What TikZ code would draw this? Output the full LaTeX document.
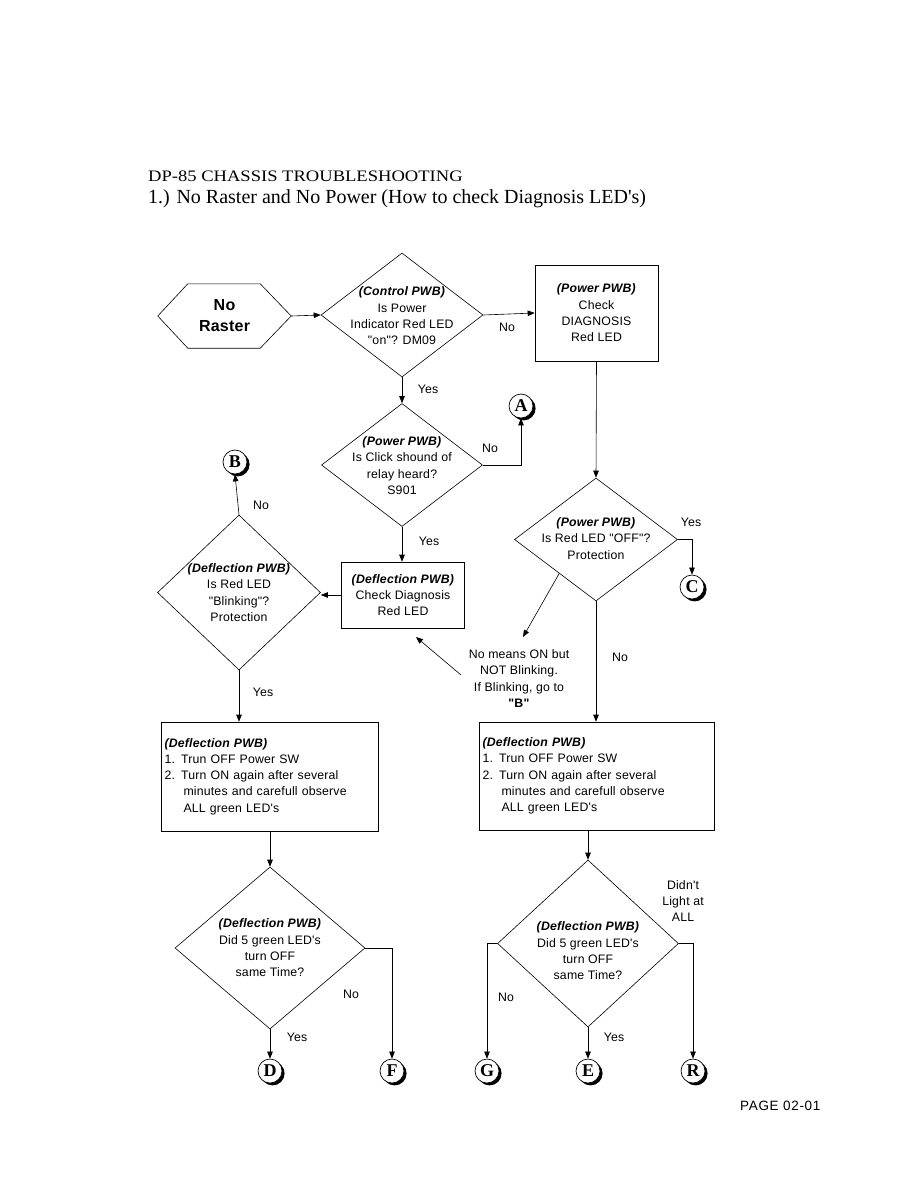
\documentclass[tikz,border=0pt]{standalone}
\usepackage{fontspec}
\newfontfamily\bodyfont{Liberation Sans}[LetterSpace=1.5]
\newfontfamily\serifwide{Liberation Serif}[FakeStretch=1.16]
\newfontfamily\serifn{Liberation Serif}
\newfontfamily\pagefont{Liberation Sans}[LetterSpace=5]
\usetikzlibrary{shapes.geometric,arrows.meta,calc,shadows}
\newcommand\pwb[1]{\textbf{\textit{#1}}}
\begin{document}
\begin{tikzpicture}[x=1pt,y=-1pt,
  every node/.style={font=\bodyfont\fontsize{12.3}{16.3}\selectfont, inner sep=0pt, text=black},
  line/.style={line width=0.6pt},
  arr/.style={line width=0.6pt,-{Triangle[length=7pt,width=5.5pt]}},
  dia/.style 2 args={draw, diamond, line width=0.6pt, minimum width=#1, minimum height=#2},
  box/.style={draw, rectangle, line width=0.6pt, align=center},
  txt/.style={align=center},
  conn/.style={circle, draw, fill=white, line width=0.7pt, minimum size=24pt,
    font=\serifn\bfseries\fontsize{18}{18}\selectfont,
    drop shadow={shadow xshift=2.6pt, shadow yshift=-2.4pt, opacity=1, fill=black}}]
\path[use as bounding box] (0,0) rectangle (918,1188);

% titles
\node[anchor=base west, font=\serifwide\fontsize{16}{16}\selectfont] (t1) at (148,181) {DP-85 CHASSIS TROUBLESHOOTING};
\node[anchor=base west, font=\serifn\fontsize{20}{20}\selectfont] (t2) at (148,203) {1.) No Raster and No Power (How to check Diagnosis LED's)};

% start hexagon
\node[minimum width=133, minimum height=64, align=center, font=\bodyfont\bfseries\fontsize{16}{21}\selectfont] (hex) at (224.5,316) {No\\Raster};
\draw[line] (hex.west) -- ($(hex.north west)+(30,0)$) -- ($(hex.north east)+(-31,0)$) -- (hex.east) -- ($(hex.south east)+(-31,0)$) -- ($(hex.south west)+(30,0)$) -- cycle;

% diamond 1
\node[dia={162}{124}] (d1) at (402,315) {};
\node[txt] (d1t) at (402,316) {\pwb{(Control PWB)}\\Is Power\\Indicator Red LED\\"on"? DM09};

% box 1
\node[box, minimum width=123, minimum height=96] (b1) at (596.5,313) {\pwb{(Power PWB)}\\Check\\DIAGNOSIS\\Red LED};

% diamond 2
\node[dia={161}{123}] (d2) at (402,465) {};
\node[txt] (d2t) at (402,465.5) {\pwb{(Power PWB)}\\Is Click shound of\\relay heard?\\S901};

% box 2
\node[box, minimum width=123, minimum height=66] (b2) at (403,595) {\pwb{(Deflection PWB)}\\Check Diagnosis\\Red LED};

% diamond 3
\node[dia={163}{155}] (d3) at (239,592.5) {};
\node[txt] (d3t) at (239,592.5) {\pwb{(Deflection PWB)}\\Is Red LED\\"Blinking"?\\Protection};

% diamond 5
\node[dia={163}{123}] (d5) at (596,539.5) {};
\node[txt] (d5t) at (596,538.5) {\pwb{(Power PWB)}\\Is Red LED "OFF"?\\Protection};

% note
\node[txt] (note) at (519,678.5) {No means ON but\\NOT Blinking.\\If Blinking, go to\\\textbf{"B"}};
\coordinate (nin) at (523,637);
\coordinate (ntail) at (461,675);
\coordinate (nhead) at (416,637);

% boxes 3 and 4
\node[box, minimum width=217, minimum height=109, align=left, text width=210] (b3) at (269.5,776.5)
  {\pwb{(Deflection PWB)}\\1. Trun OFF Power SW\\2. Turn ON again after several\\\hspace*{19pt}minutes and carefull observe\\\hspace*{19pt}ALL green LED's};
\node[box, minimum width=235, minimum height=108, align=left, text width=228] (b4) at (596.5,776)
  {\pwb{(Deflection PWB)}\\1. Trun OFF Power SW\\2. Turn ON again after several\\\hspace*{19pt}minutes and carefull observe\\\hspace*{19pt}ALL green LED's};

% diamonds 4 and 6
\node[dia={190}{162}] (d4) at (270,948) {};
\node[txt] (d4t) at (270,948) {\pwb{(Deflection PWB)}\\Did 5 green LED's\\turn OFF\\same Time?};
\node[dia={181}{167}] (d6) at (588,943.5) {};
\node[txt] (d6t) at (588,951) {\pwb{(Deflection PWB)}\\Did 5 green LED's\\turn OFF\\same Time?};

% connectors (circles)
\node[conn] (A) at (521,406) {A};
\node[conn] (B) at (235,462) {B};
\node[conn] (C) at (692,587) {C};
\node[conn] (D) at (270,1071) {D};
\node[conn] (F) at (392,1071) {F};
\node[conn] (G) at (487,1071) {G};
\node[conn] (E) at (588,1071) {E};
\node[conn] (R) at (693,1071) {R};

% arrows
\draw[arr] (hex.east) -- (d1.west);
\draw[arr] (d1.east) -- (b1.west);
\draw[arr] (d1.south) -- (d2.north);
\draw[arr] (d2.east) -| (A.south);
\draw[arr] (d2.south) -- (d2.south |- b2.north);
\draw[arr] (b2.west) -- (b2.west -| d3.east);
\draw[arr] (d3.north) -- (B.south);
\draw[arr] (d3.south) -- (d3.south |- b3.north);
\draw[arr] (b1.south) -- (d5.north);
\draw[arr] (d5.east) -| (C.north);
\draw[arr] ($(d5.west)!0.55!(d5.south)$) -- (nin);
\draw[arr] (ntail) -- (nhead);
\draw[arr] (d5.south) -- (d5.south |- b4.north);
\draw[arr] (b3.south -| d4.north) -- (d4.north);
\draw[arr] (b4.south -| d6.north) -- (d6.north);
\draw[arr] (d4.south) -- (D.north);
\draw[arr] (d4.east) -| (F.north);
\draw[arr] (d6.west) -| (G.north);
\draw[arr] (d6.south) -- (E.north);
\draw[arr] (d6.east) -| (R.north);

% labels
\node (l1) at (507,327) {No};
\node (l2) at (428,389) {Yes};
\node (l3) at (490,448) {No};
\node (l4) at (429,541) {Yes};
\node (l5) at (261,505) {No};
\node (l6) at (691,522) {Yes};
\node (l7) at (263,692) {Yes};
\node (l8) at (620,657) {No};
\node (l9) at (351,994) {No};
\node (l10) at (297,1037) {Yes};
\node (l11) at (506,997) {No};
\node (l12) at (614,1037) {Yes};
\node[txt] (l13) at (683,901) {Didn't\\Light at\\ALL};

% page number
\node[anchor=base west, font=\pagefont\fontsize{13.5}{13.5}\selectfont] (pg) at (740,1110) {PAGE 02-01};
\end{tikzpicture}
\end{document}
